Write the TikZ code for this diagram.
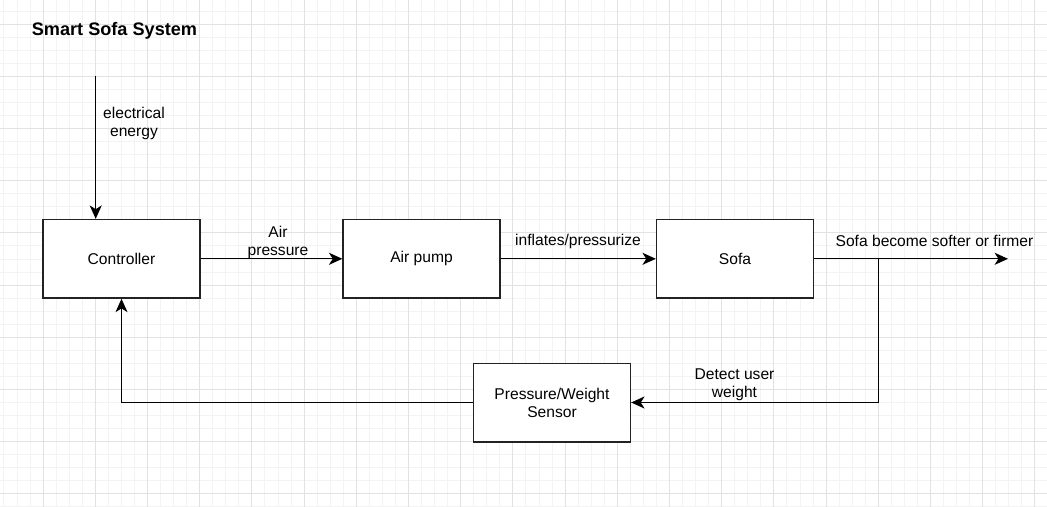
\documentclass[tikz,border=0pt]{standalone}
\usepackage{fontspec}
\setmainfont{Liberation Sans}
\usetikzlibrary{arrows.meta}
\definecolor{gridminor}{HTML}{F3F3F3}
\definecolor{gridmajor}{HTML}{E2E2E2}
\definecolor{boxedge}{HTML}{222222}

\begin{document}
\begin{tikzpicture}[
  x=0.75pt,
  y=-0.75pt,
  line join=miter,
  minorline/.style={draw=gridminor,line width=0.6pt},
  majorline/.style={draw=gridmajor,line width=0.7pt},
  block/.style={draw=boxedge,fill=white,line width=1pt,minimum width=117.75pt,
    minimum height=59pt,inner sep=0pt,align=center,font=\fontsize{11.7}{13.5}\selectfont},
  caption/.style={align=center,inner sep=0pt,font=\fontsize{11.7}{13.5}\selectfont},
  flow/.style={draw=black,line width=1pt,-{Stealth[length=10pt,width=9pt,inset=2.8pt]}}
]
  \useasboundingbox (0,0) rectangle (1047,507);
  \fill[white] (0,0) rectangle (1047,507);

  % Background grid, minor then major lines.
  \foreach \k in {-3,...,77} {
    \draw[minorline] ({43+13.05*\k},0) -- ({43+13.05*\k},507);
  }
  \foreach \k in {-1,...,37} {
    \draw[minorline] (0,{24+13.05*\k}) -- (1047,{24+13.05*\k});
  }
  \foreach \k in {0,...,19} {
    \draw[majorline] ({43+52.2*\k},0) -- ({43+52.2*\k},507);
  }
  \foreach \k in {0,...,9} {
    \draw[majorline] (0,{24+52.2*\k}) -- (1047,{24+52.2*\k});
  }

  % Title.
  \node[inner sep=0pt,font=\bfseries\fontsize{13.6}{16}\selectfont] (title) at (114.5,30.5) {Smart Sofa System};

  % Blocks of the loop.
  \node[block] (ctrl) at (121.5,258.8) {Controller};
  \node[block] (pump) at (421.5,258.8) {\strut Air pump\strut};
  \node[block] (sofa) at (735,258.8) {Sofa};
  \node[block] (sensor) at (552,402.5) {Pressure/Weight\\Sensor};

  % Free ends and branch point.
  \coordinate (supply) at (95.7,76);
  \coordinate (output) at (1008,258.8);
  \coordinate (tap) at (878.3,258.8);

  % Connectors.
  \draw[flow] (supply) -- (supply |- ctrl.north);
  \draw[flow] (ctrl) -- (pump);
  \draw[flow] (pump) -- (sofa);
  \draw[flow] (sofa) -- (output);
  \draw[flow] (tap) |- (sensor.east);
  \draw[flow] (sensor.west) -| (ctrl.south);

  % Connector labels.
  \node[caption] (energylbl) at (134,123) {electrical\\energy};
  \node[caption] (airlbl) at (278,242) {Air\\pressure};
  \node[caption] (inflatelbl) at (578,241) {inflates/pressurize};
  \node[caption] (resultlbl) at (934.5,241) {Sofa become softer or firmer};
  \node[caption] (detectlbl) at (734.5,385) {Detect user\\weight};
\end{tikzpicture}
\end{document}
